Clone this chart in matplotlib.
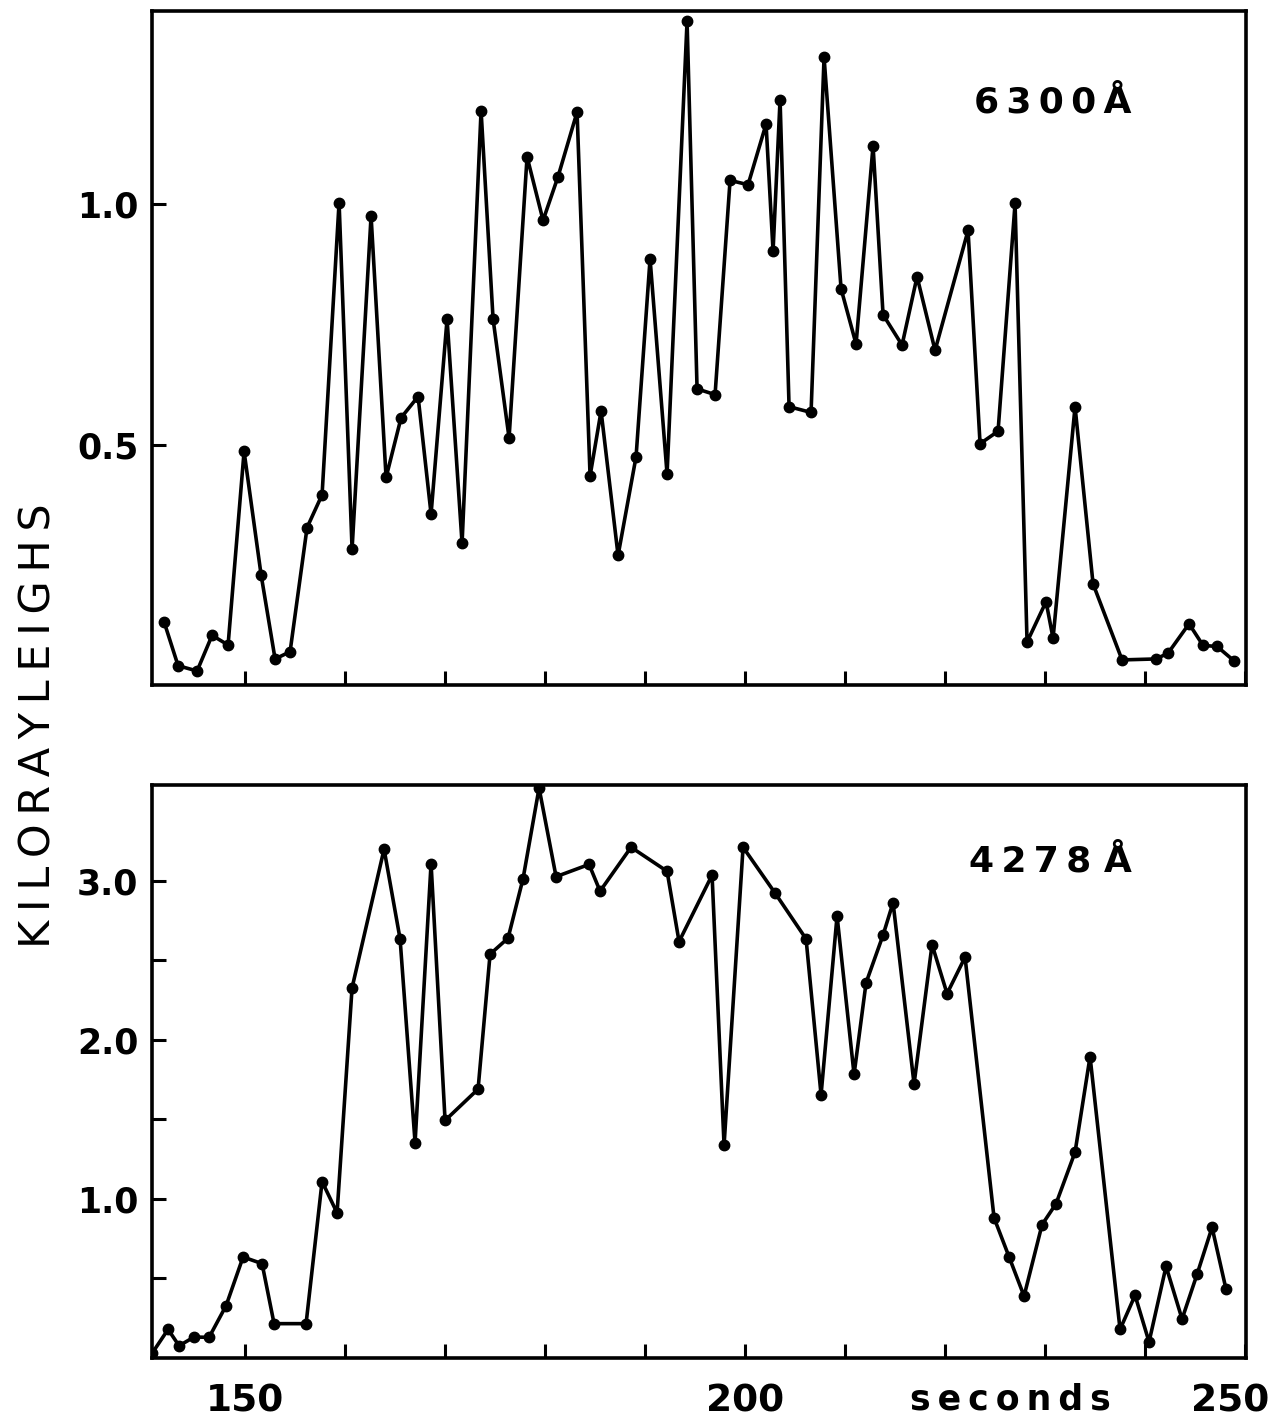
import matplotlib
matplotlib.use("Agg")
import matplotlib.pyplot as plt
from matplotlib.transforms import ScaledTranslation, blended_transform_factory

# 6300 A emission, top panel (seconds, kilorayleighs)
t_6300 = [141.9, 143.3, 145.2, 146.7, 148.3, 149.9, 151.6, 153.0, 154.5, 156.2,
          157.7, 159.4, 160.7, 162.6, 164.1, 165.6, 167.3, 168.6, 170.2, 171.7,
          173.6, 174.8, 176.4, 178.2, 179.8, 181.3, 183.2, 184.5, 185.6, 187.3,
          189.1, 190.5, 192.2, 194.2, 195.2, 197.0, 198.5, 200.3, 202.1, 202.8,
          203.5, 204.4, 206.6, 207.9, 209.6, 211.1, 212.8, 213.8, 215.7, 217.2,
          219.0, 222.3, 223.5, 225.3, 227.0, 228.2, 230.1, 230.8, 233.0, 234.8,
          237.7, 241.1, 242.3, 244.4, 245.8, 247.2, 248.9]
kr_6300 = [0.132, 0.041, 0.030, 0.104, 0.084, 0.486, 0.230, 0.055, 0.070, 0.328,
           0.396, 1.003, 0.283, 0.975, 0.432, 0.556, 0.600, 0.356, 0.761, 0.295,
           1.194, 0.761, 0.514, 1.098, 0.966, 1.057, 1.191, 0.435, 0.570, 0.270,
           0.475, 0.886, 0.439, 1.380, 0.616, 0.604, 1.049, 1.040, 1.166, 0.902,
           1.217, 0.579, 0.567, 1.305, 0.824, 0.709, 1.121, 0.770, 0.707, 0.849,
           0.696, 0.945, 0.502, 0.528, 1.001, 0.090, 0.174, 0.098, 0.579, 0.211,
           0.053, 0.055, 0.067, 0.128, 0.083, 0.081, 0.051]

# 4278 A emission, bottom panel
t_4278 = [140.7, 142.3, 143.4, 144.9, 146.4, 148.1, 149.8, 151.7, 152.9, 156.1,
          157.7, 159.2, 160.7, 163.9, 165.5, 167.0, 168.6, 170.0, 173.3, 174.5,
          176.3, 177.8, 179.4, 181.1, 184.4, 185.5, 188.6, 192.2, 193.4, 196.7,
          197.9, 199.8, 203.0, 206.1, 207.6, 209.2, 210.9, 212.1, 213.8, 214.8,
          216.9, 218.7, 220.2, 222.0, 224.9, 226.4, 227.9, 229.7, 231.1, 233.0,
          234.5, 237.5, 239.0, 240.4, 242.1, 243.7, 245.2, 246.7, 248.1]
kr_4278 = [0.03, 0.18, 0.077, 0.132, 0.130, 0.329, 0.635, 0.593, 0.216, 0.216,
           1.109, 0.912, 2.327, 3.198, 2.634, 1.354, 3.107, 1.493, 1.690, 2.538,
           2.639, 3.013, 3.582, 3.025, 3.102, 2.934, 3.210, 3.059, 2.617, 3.035,
           1.337, 3.210, 2.922, 2.634, 1.654, 2.778, 1.782, 2.358, 2.658, 2.862,
           1.722, 2.598, 2.290, 2.519, 0.881, 0.636, 0.389, 0.838, 0.970, 1.294,
           1.894, 0.180, 0.394, 0.101, 0.576, 0.245, 0.526, 0.821, 0.432]

x_ticks = list(range(150, 251, 10))
x_labels = ["150", "", "", "", "", "200", "", "", "", "", "250"]
top_yticks = [0.5, 1.0]
bot_yticks = [1.0, 2.0, 3.0]
bot_yminor = [0.5, 1.5, 2.5]

TS = "\u2009"  # thin space, for the letter-spaced typewriter look


def spaced(s):
    return TS.join(s)


fig = plt.figure(figsize=(12.78, 14.25), dpi=100)
ax1 = fig.add_axes([0.119, 0.519, 0.856, 0.473])
ax2 = fig.add_axes([0.119, 0.047, 0.856, 0.402])

for ax in (ax1, ax2):
    ax.set_xlim(140.7, 250.1)
    ax.set_xticks(x_ticks)
    for s in ax.spines.values():
        s.set_linewidth(2.6)
    ax.tick_params(direction="in", length=10, width=2.2, which="both",
                   top=False, right=False)
    ax.tick_params(axis="y", pad=10)

ax1.plot(t_6300, kr_6300, color="black", lw=2.6, marker="o", ms=7.5)
ax1.set_ylim(0, 1.40)
ax1.set_yticks(top_yticks)
ax1.set_yticklabels(["0.5", "1.0"], fontsize=25, fontweight="bold")
ax1.set_xticklabels([])
ax1.text(0.823, 0.865, spaced("6300Å"), transform=ax1.transAxes, fontsize=26,
         fontweight="bold", ha="center", va="center")

ax2.plot(t_4278, kr_4278, color="black", lw=2.6, marker="o", ms=7.5)
ax2.set_ylim(0, 3.60)
ax2.set_yticks(bot_yticks)
ax2.set_yticks(bot_yminor, minor=True)
ax2.set_yticklabels(["1.0", "2.0", "3.0"], fontsize=25, fontweight="bold")
ax2.set_xticklabels(x_labels, fontsize=27, fontweight="bold")
ax2.tick_params(axis="x", pad=18)
ax2.text(0.821, 0.866, spaced("4278") + " Å", transform=ax2.transAxes, fontsize=26,
         fontweight="bold", ha="center", va="center")

# keep the 250 label inside the figure like the original
lab = ax2.get_xticklabels()[-1]
lab.set_transform(lab.get_transform() + ScaledTranslation(-0.15, 0, fig.dpi_scale_trans))

trans = blended_transform_factory(ax2.transData, ax2.transAxes)
ax2.text(226.5, -0.073, spaced("seconds"), transform=trans, fontsize=25,
         fontweight="bold", ha="center", va="center")

fig.text(0.030, 0.491, spaced("KILORAYLEIGHS"), rotation=90, fontsize=31,
         ha="center", va="center")

fig.savefig("out.png", dpi=100)
